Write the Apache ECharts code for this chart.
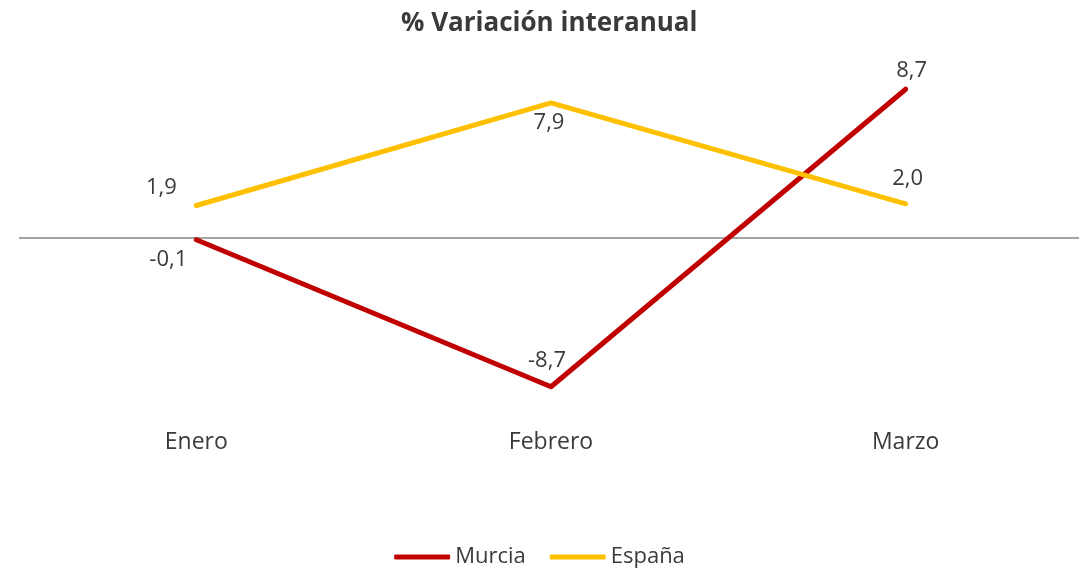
<!DOCTYPE html>
<html>
<head>
<meta charset="utf-8">
<script src="https://cdn.jsdelivr.net/npm/echarts@6/dist/echarts.min.js"></script>
<style>
  html, body { margin: 0; padding: 0; background: #ffffff; }
  #chart { width: 1079px; height: 569px; }
</style>
</head>
<body>
<div id="chart"></div>
<script>
// datos
const meses = ["Enero", "Febrero", "Marzo"];
const murcia = [-0.1, -8.7, 8.7];
const espana = [1.9, 7.9, 2.0];

// desplazamiento de etiquetas (px) respecto al punto
const offMurcia = [[-28, 20], [-4, -26], [6, -18]];
const offEspana = [[-35, -18], [-2, 20], [2, -25]];

const FONT = "Open Sans";
const TXT = "#3a3a3a";

function puntos(vals, offs) {
  return vals.map((v, i) => ({ value: v, label: { offset: offs[i] } }));
}

let myChart = echarts.init(document.getElementById("chart"));

myChart.setOption({
  animation: false,
  title: {
    text: "% Variación interanual",
    left: 396,
    top: 6,
    textStyle: {
      fontFamily: FONT,
      fontSize: 26,
      fontWeight: "bold",
      color: TXT
    }
  },
  legend: {
    data: ["Murcia", "España"],
    left: "center",
    top: 541,
    icon: "roundRect",
    itemWidth: 56,
    itemHeight: 5,
    itemGap: 24,
    textStyle: {
      fontFamily: FONT,
      fontSize: 22,
      color: TXT
    }
  },
  grid: {
    left: 19,
    width: 1064,
    top: 67,
    bottom: 160,
    outerBoundsMode: "none"
  },
  xAxis: {
    type: "category",
    data: meses,
    boundaryGap: true,
    axisLine: { show: false, onZero: false },
    axisTick: { show: false },
    axisLabel: {
      margin: 22,
      fontFamily: FONT,
      fontSize: 23,
      color: TXT
    }
  },
  yAxis: {
    type: "value",
    min: -10,
    max: 10,
    interval: 10,
    show: false,
    splitLine: { show: false }
  },
  series: [
    {
      name: "Murcia",
      type: "line",
      data: puntos(murcia, offMurcia),
      color: "#C00000",
      symbol: "circle",
      symbolSize: 1,
      lineStyle: { width: 5, cap: "round", join: "round" },
      label: {
        show: true,
        position: "inside",
        formatter: p => p.value.toFixed(1).replace(".", ","),
        fontFamily: FONT,
        fontSize: 22,
        color: TXT
      },
      markLine: {
        silent: true,
        symbol: "none",
        label: { show: false },
        lineStyle: { color: "#868686", width: 1.5, type: "solid" },
        data: [{ yAxis: 0 }],
        z: 1
      }
    },
    {
      name: "España",
      type: "line",
      data: puntos(espana, offEspana),
      color: "#FFC000",
      symbol: "circle",
      symbolSize: 1,
      lineStyle: { width: 5, cap: "round", join: "round" },
      label: {
        show: true,
        position: "inside",
        formatter: p => p.value.toFixed(1).replace(".", ","),
        fontFamily: FONT,
        fontSize: 22,
        color: TXT
      }
    }
  ]
});
</script>
</body>
</html>
